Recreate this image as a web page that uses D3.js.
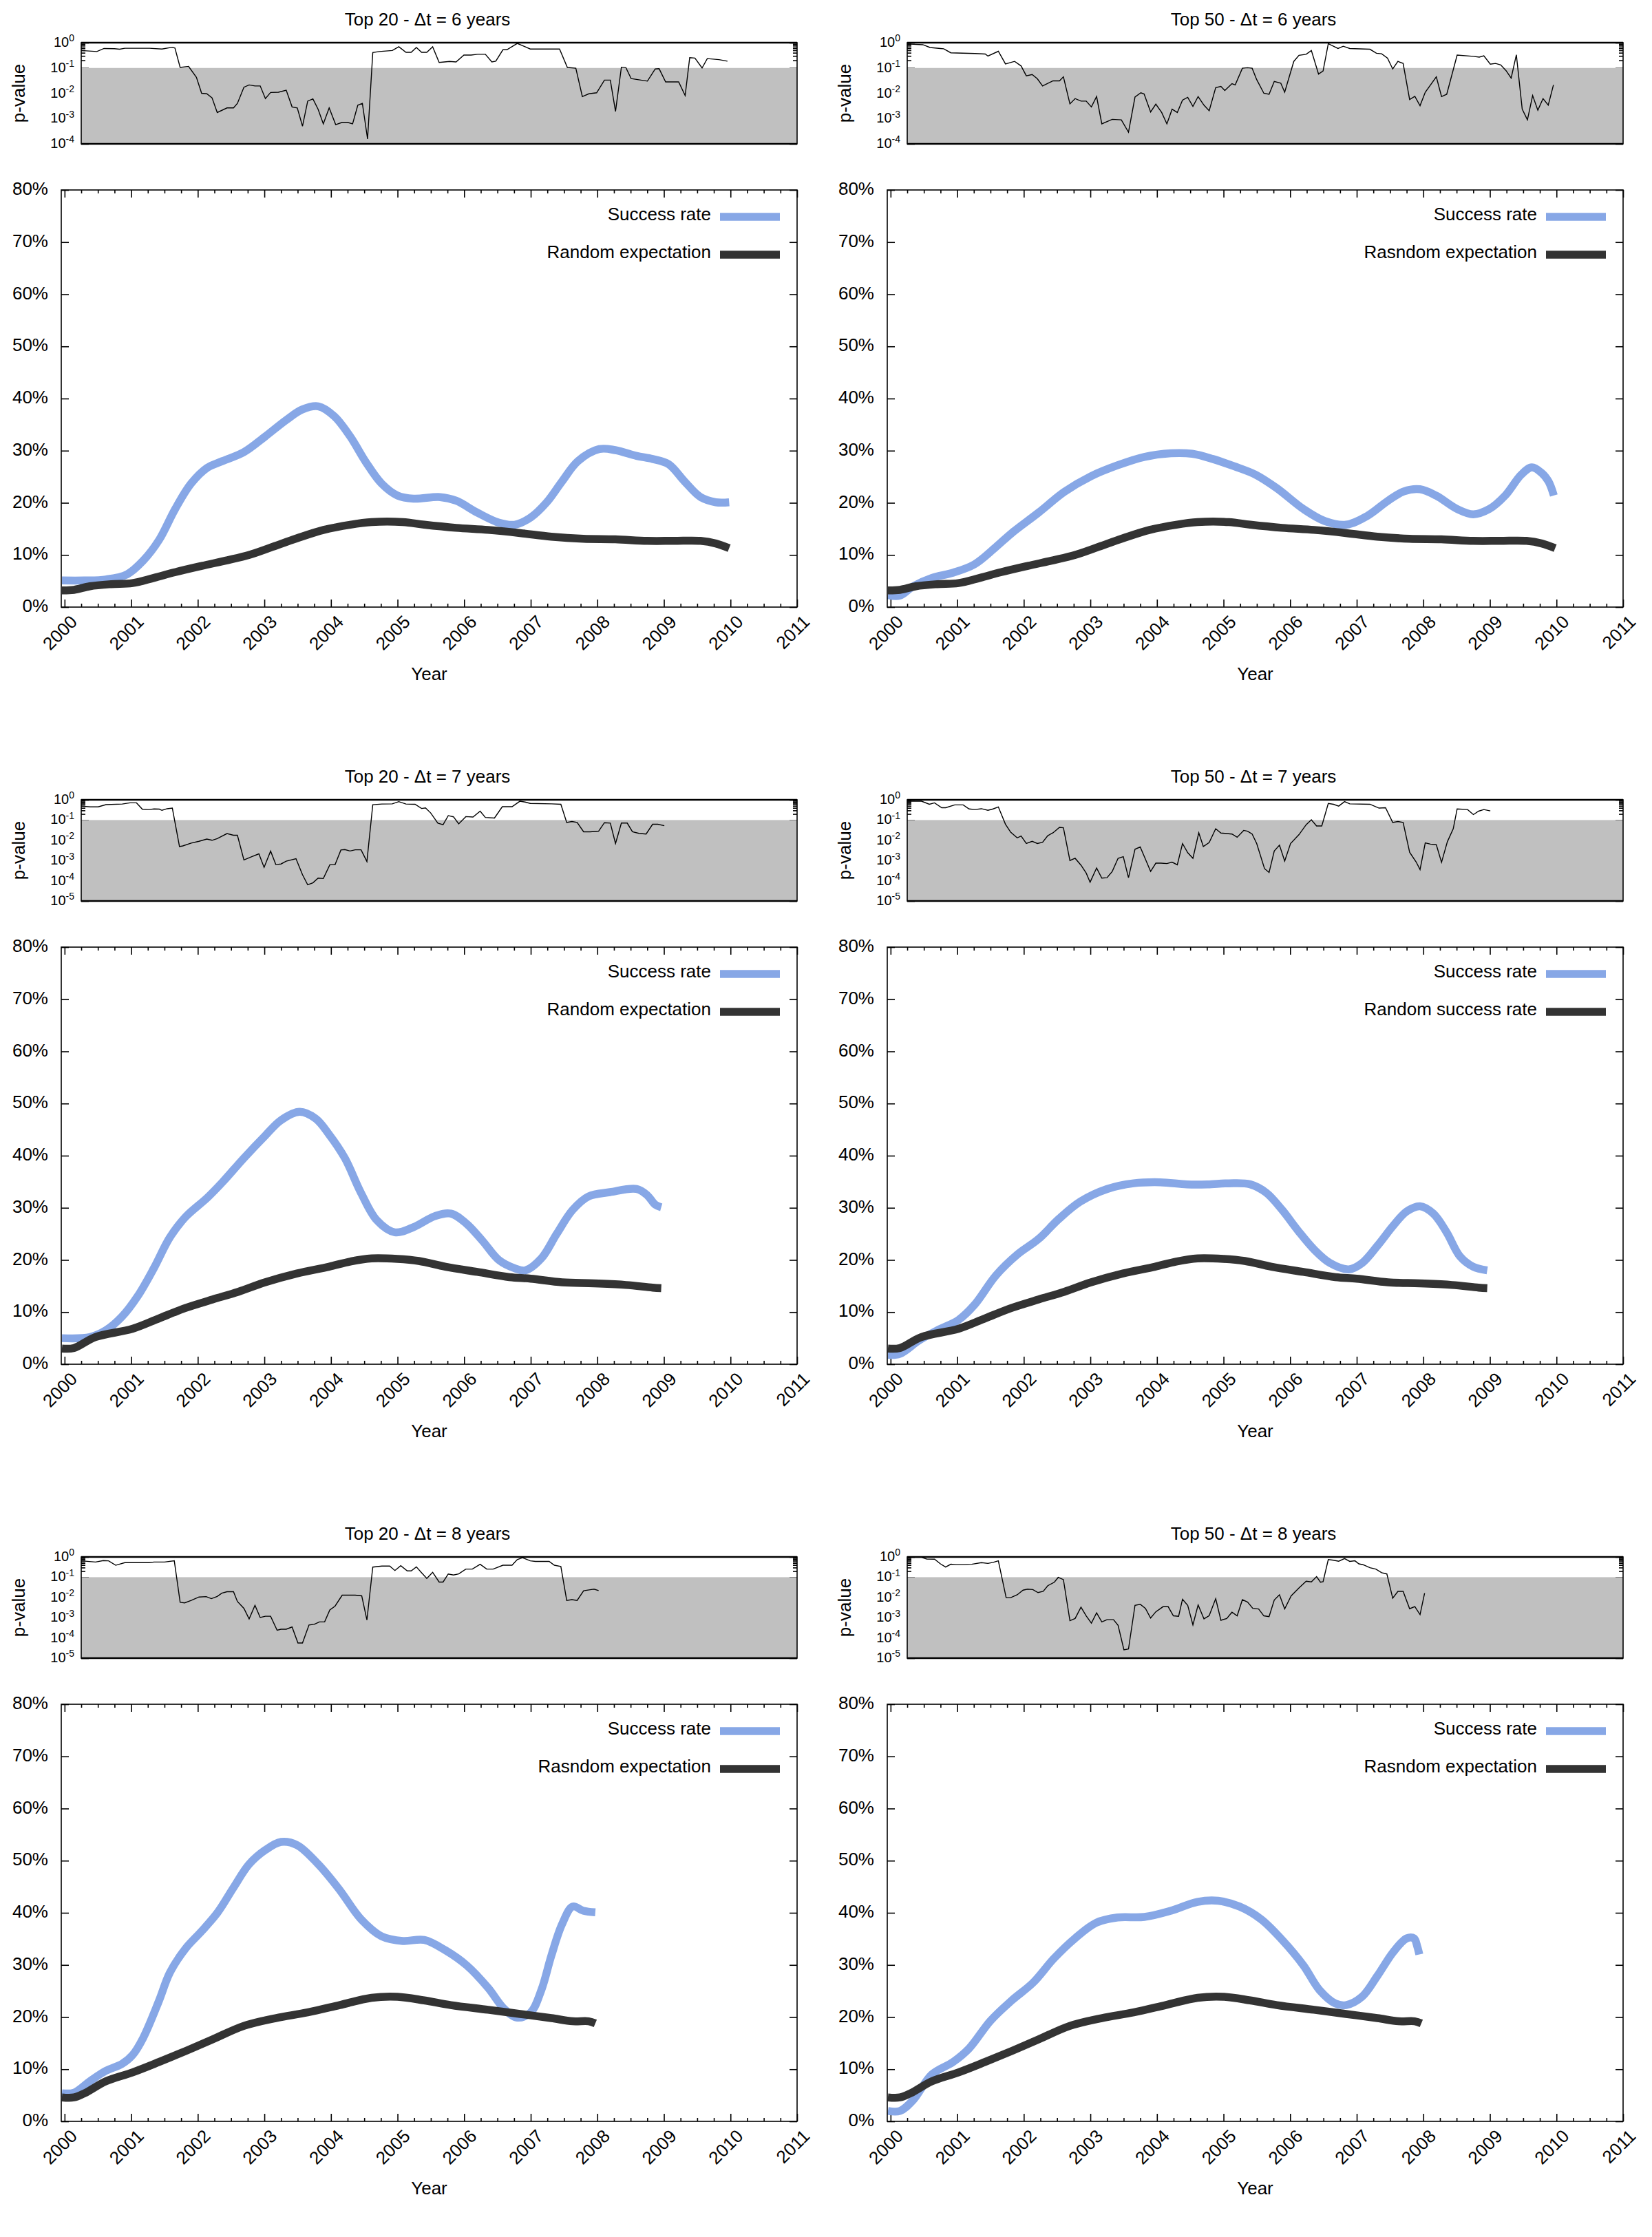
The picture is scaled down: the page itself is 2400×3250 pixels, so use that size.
<!DOCTYPE html>
<html>
<head>
<meta charset="utf-8">
<script src="https://cdn.jsdelivr.net/npm/d3@7"></script>
<style>
body{margin:0;background:#fff}
text{font-family:"Liberation Sans",Arial,Helvetica,sans-serif;fill:#000}
</style>
</head>
<body>
<div id="chart"></div>
<script>
// six panels (Top 20 / Top 50 x dt = 6,7,8 years)
var titles=["Top 20 - \u0394t = 6 years","Top 50 - \u0394t = 6 years",
"Top 20 - \u0394t = 7 years","Top 50 - \u0394t = 7 years",
"Top 20 - \u0394t = 8 years","Top 50 - \u0394t = 8 years"];
var legendLabels=[["Success rate","Random expectation"],["Success rate","Rasndom expectation"],
["Success rate","Random expectation"],["Success rate","Random success rate"],
["Success rate","Rasndom expectation"],["Success rate","Rasndom expectation"]];
var yearTicks=[2000,2001,2002,2003,2004,2005,2006,2007,2008,2009,2010,2011];
var pctTicks=[0,10,20,30,40,50,60,70,80];

// p-value lines: [year, log10(p)]
var pv_t20_dt6=[[2000.00,-0.31],[2000.24,-0.35],[2000.35,-0.23],[2000.51,-0.24],[2000.59,-0.26],[2000.67,-0.22],[2001.05,-0.22],[2001.24,-0.25],[2001.40,-0.18],[2001.44,-0.21],[2001.52,-0.98],[2001.65,-0.94],[2001.77,-1.37],[2001.85,-2.00],[2001.93,-2.02],[2002.01,-2.18],[2002.09,-2.76],[2002.24,-2.58],[2002.34,-2.58],[2002.40,-2.40],[2002.50,-1.76],[2002.58,-1.67],[2002.67,-1.71],[2002.75,-1.71],[2002.83,-2.21],[2002.91,-1.97],[2003.03,-1.96],[2003.15,-1.88],[2003.24,-2.54],[2003.32,-2.58],[2003.40,-3.30],[2003.48,-2.31],[2003.56,-2.22],[2003.64,-2.63],[2003.72,-3.21],[2003.81,-2.58],[2003.91,-3.24],[2004.01,-3.15],[2004.09,-3.15],[2004.17,-3.21],[2004.25,-2.47],[2004.32,-2.40],[2004.40,-3.81],[2004.48,-0.39],[2004.58,-0.35],[2004.78,-0.31],[2004.88,-0.16],[2004.99,-0.38],[2005.07,-0.38],[2005.15,-0.19],[2005.23,-0.38],[2005.31,-0.38],[2005.40,-0.16],[2005.50,-0.78],[2005.58,-0.76],[2005.66,-0.74],[2005.76,-0.76],[2005.88,-0.49],[2005.99,-0.49],[2006.09,-0.46],[2006.21,-0.46],[2006.31,-0.76],[2006.37,-0.73],[2006.48,-0.28],[2006.54,-0.28],[2006.70,-0.03],[2006.82,-0.16],[2006.90,-0.25],[2007.35,-0.25],[2007.47,-0.98],[2007.60,-1.01],[2007.70,-2.13],[2007.80,-2.02],[2007.92,-1.98],[2008.04,-1.48],[2008.13,-1.48],[2008.21,-2.72],[2008.30,-0.97],[2008.37,-0.99],[2008.45,-1.42],[2008.70,-1.52],[2008.82,-1.04],[2008.88,-1.03],[2008.98,-1.55],[2009.18,-1.55],[2009.28,-2.09],[2009.35,-0.59],[2009.43,-0.61],[2009.54,-1.00],[2009.62,-0.63],[2009.80,-0.67],[2009.93,-0.73]];
var pv_t50_dt6=[[2000.00,-0.05],[2000.24,-0.08],[2000.35,-0.19],[2000.51,-0.23],[2000.56,-0.24],[2000.67,-0.40],[2001.04,-0.43],[2001.20,-0.45],[2001.24,-0.53],[2001.40,-0.34],[2001.51,-0.84],[2001.65,-0.74],[2001.75,-0.92],[2001.83,-1.31],[2001.92,-1.26],[2002.00,-1.43],[2002.08,-1.71],[2002.24,-1.51],[2002.34,-1.51],[2002.40,-1.35],[2002.50,-2.42],[2002.58,-2.21],[2002.67,-2.31],[2002.75,-2.31],[2002.83,-2.54],[2002.91,-2.13],[2002.99,-3.21],[2003.15,-3.03],[2003.29,-3.05],[2003.40,-3.54],[2003.50,-2.15],[2003.59,-1.98],[2003.64,-2.03],[2003.74,-2.74],[2003.82,-2.43],[2003.91,-2.76],[2003.99,-3.21],[2004.07,-2.63],[2004.15,-2.76],[2004.23,-2.27],[2004.31,-2.16],[2004.39,-2.52],[2004.47,-2.13],[2004.56,-2.47],[2004.64,-2.69],[2004.74,-1.78],[2004.82,-1.73],[2004.88,-1.89],[2004.99,-1.62],[2005.04,-1.67],[2005.15,-1.01],[2005.23,-0.99],[2005.30,-1.01],[2005.37,-1.46],[2005.48,-2.00],[2005.56,-2.04],[2005.64,-1.53],[2005.74,-1.60],[2005.80,-1.96],[2005.94,-0.74],[2006.02,-0.50],[2006.13,-0.46],[2006.21,-0.31],[2006.32,-1.24],[2006.39,-1.12],[2006.47,-0.04],[2006.62,-0.23],[2006.70,-0.14],[2006.80,-0.23],[2007.11,-0.26],[2007.21,-0.42],[2007.29,-0.44],[2007.38,-0.61],[2007.46,-1.04],[2007.54,-0.74],[2007.62,-0.82],[2007.72,-2.25],[2007.80,-2.12],[2007.88,-2.49],[2007.96,-1.96],[2008.13,-1.35],[2008.21,-2.13],[2008.29,-2.04],[2008.45,-0.49],[2008.70,-0.54],[2008.79,-0.57],[2008.86,-0.52],[2008.96,-0.85],[2009.04,-0.82],[2009.12,-0.88],[2009.20,-1.10],[2009.28,-1.40],[2009.36,-0.48],[2009.45,-2.63],[2009.53,-3.05],[2009.61,-2.09],[2009.69,-2.67],[2009.77,-2.21],[2009.85,-2.47],[2009.93,-1.67]];
var pv_t20_dt7=[[2000.00,-0.31],[2000.14,-0.35],[2000.26,-0.35],[2000.38,-0.24],[2000.63,-0.21],[2000.75,-0.15],[2000.85,-0.15],[2000.94,-0.47],[2001.04,-0.48],[2001.12,-0.45],[2001.20,-0.46],[2001.24,-0.52],[2001.32,-0.44],[2001.40,-0.41],[2001.51,-2.31],[2001.56,-2.28],[2001.69,-2.14],[2001.81,-2.05],[2001.93,-1.94],[2002.01,-2.00],[2002.09,-1.92],[2002.24,-1.67],[2002.34,-1.75],[2002.40,-1.75],[2002.50,-2.97],[2002.62,-2.81],[2002.73,-2.67],[2002.81,-3.34],[2002.91,-2.53],[2002.99,-3.20],[2003.07,-3.17],[2003.15,-3.03],[2003.30,-2.91],[2003.40,-3.70],[2003.48,-4.20],[2003.56,-4.10],[2003.64,-3.87],[2003.72,-3.89],[2003.82,-3.21],[2003.90,-3.21],[2003.99,-2.48],[2004.05,-2.46],[2004.13,-2.53],[2004.21,-2.47],[2004.30,-2.47],[2004.39,-3.05],[2004.48,-0.24],[2004.62,-0.21],[2004.78,-0.20],[2004.88,-0.09],[2004.99,-0.21],[2005.13,-0.22],[2005.23,-0.43],[2005.29,-0.40],[2005.37,-0.65],[2005.48,-1.15],[2005.56,-1.23],[2005.64,-0.78],[2005.72,-0.84],[2005.80,-1.19],[2005.91,-0.83],[2006.02,-0.85],[2006.13,-0.56],[2006.21,-0.87],[2006.35,-0.90],[2006.47,-0.34],[2006.62,-0.34],[2006.74,-0.07],[2006.82,-0.11],[2006.90,-0.18],[2007.23,-0.20],[2007.37,-0.22],[2007.46,-1.12],[2007.54,-1.07],[2007.62,-1.12],[2007.72,-1.58],[2007.82,-1.58],[2007.95,-1.55],[2008.04,-1.13],[2008.13,-1.15],[2008.21,-2.16],[2008.30,-1.15],[2008.39,-1.15],[2008.47,-1.58],[2008.57,-1.66],[2008.68,-1.69],[2008.78,-1.21],[2008.86,-1.21],[2008.96,-1.28]];
var pv_t50_dt7=[[2000.00,-0.07],[2000.22,-0.07],[2000.34,-0.22],[2000.42,-0.15],[2000.53,-0.39],[2000.59,-0.39],[2000.73,-0.25],[2000.86,-0.25],[2000.95,-0.45],[2001.04,-0.48],[2001.14,-0.44],[2001.24,-0.52],[2001.32,-0.45],[2001.40,-0.35],[2001.51,-1.21],[2001.59,-1.60],[2001.69,-1.88],[2001.75,-1.79],[2001.83,-2.16],[2001.92,-2.05],[2002.00,-2.16],[2002.08,-2.10],[2002.16,-1.77],[2002.24,-1.63],[2002.34,-1.36],[2002.40,-1.38],[2002.50,-3.00],[2002.58,-2.89],[2002.67,-3.23],[2002.75,-3.62],[2002.81,-4.07],[2002.91,-3.37],[2002.99,-3.87],[2003.07,-3.85],[2003.15,-3.54],[2003.24,-2.89],[2003.32,-2.81],[2003.40,-3.85],[2003.50,-2.44],[2003.58,-2.33],[2003.64,-2.78],[2003.74,-3.54],[2003.82,-3.13],[2003.90,-3.13],[2003.99,-3.15],[2004.07,-3.08],[2004.15,-3.21],[2004.23,-2.16],[2004.31,-2.61],[2004.39,-2.89],[2004.48,-1.63],[2004.55,-2.31],[2004.64,-2.11],[2004.74,-1.43],[2004.82,-1.64],[2004.88,-1.66],[2004.99,-1.69],[2005.07,-1.85],[2005.17,-1.51],[2005.23,-1.55],[2005.30,-1.69],[2005.37,-2.16],[2005.49,-3.40],[2005.56,-3.59],[2005.64,-2.53],[2005.72,-2.24],[2005.80,-3.03],[2005.89,-2.16],[2006.02,-1.72],[2006.13,-1.23],[2006.21,-0.99],[2006.29,-1.29],[2006.37,-1.29],[2006.47,-0.18],[2006.55,-0.22],[2006.63,-0.31],[2006.72,-0.09],[2006.80,-0.20],[2007.11,-0.22],[2007.25,-0.41],[2007.35,-0.39],[2007.46,-1.12],[2007.54,-1.07],[2007.62,-1.12],[2007.72,-2.59],[2007.82,-3.07],[2007.88,-3.45],[2007.96,-2.13],[2008.04,-2.19],[2008.13,-2.22],[2008.21,-3.09],[2008.30,-2.07],[2008.39,-1.43],[2008.45,-0.45],[2008.61,-0.48],[2008.70,-0.73],[2008.78,-0.56],[2008.86,-0.48],[2008.96,-0.55]];
var pv_t20_dt8=[[2000.06,-0.21],[2000.22,-0.25],[2000.34,-0.18],[2000.42,-0.19],[2000.53,-0.41],[2000.67,-0.28],[2001.04,-0.28],[2001.12,-0.25],[2001.28,-0.25],[2001.43,-0.19],[2001.52,-2.24],[2001.59,-2.27],[2001.69,-2.15],[2001.81,-1.98],[2001.92,-1.96],[2002.00,-2.06],[2002.09,-1.95],[2002.16,-1.79],[2002.24,-1.72],[2002.34,-1.72],[2002.40,-2.20],[2002.50,-2.54],[2002.58,-3.06],[2002.67,-2.39],[2002.75,-2.99],[2002.83,-2.93],[2002.91,-2.93],[2003.01,-3.62],[2003.07,-3.57],[2003.15,-3.57],[2003.24,-3.46],[2003.33,-4.25],[2003.40,-4.25],[2003.50,-3.36],[2003.58,-3.33],[2003.66,-3.21],[2003.74,-3.21],[2003.82,-2.62],[2003.90,-2.43],[2004.01,-1.89],[2004.21,-1.89],[2004.31,-1.92],[2004.39,-3.12],[2004.48,-0.50],[2004.62,-0.45],[2004.74,-0.45],[2004.82,-0.67],[2004.91,-0.43],[2005.01,-0.69],[2005.07,-0.69],[2005.15,-0.49],[2005.23,-0.78],[2005.31,-1.06],[2005.40,-0.76],[2005.50,-1.24],[2005.56,-1.24],[2005.64,-0.84],[2005.72,-0.89],[2005.80,-0.84],[2005.91,-0.60],[2006.01,-0.60],[2006.13,-0.36],[2006.23,-0.60],[2006.33,-0.60],[2006.48,-0.41],[2006.62,-0.41],[2006.70,-0.13],[2006.78,-0.04],[2006.90,-0.19],[2006.98,-0.22],[2007.19,-0.22],[2007.27,-0.41],[2007.37,-0.47],[2007.46,-2.15],[2007.54,-2.11],[2007.62,-2.15],[2007.72,-1.67],[2007.82,-1.62],[2007.88,-1.59],[2007.95,-1.66]];
var pv_t50_dt8=[[2000.06,-0.02],[2000.22,-0.02],[2000.30,-0.10],[2000.42,-0.11],[2000.51,-0.34],[2000.59,-0.50],[2000.67,-0.36],[2000.75,-0.38],[2000.87,-0.38],[2000.99,-0.36],[2001.14,-0.28],[2001.24,-0.32],[2001.32,-0.27],[2001.40,-0.19],[2001.52,-2.01],[2001.59,-2.01],[2001.69,-1.87],[2001.78,-1.64],[2001.85,-1.59],[2001.93,-1.61],[2002.01,-1.76],[2002.09,-1.70],[2002.16,-1.42],[2002.26,-1.25],[2002.32,-1.01],[2002.40,-1.12],[2002.50,-3.15],[2002.58,-3.04],[2002.67,-2.48],[2002.75,-2.91],[2002.83,-3.27],[2002.91,-2.76],[2002.99,-3.21],[2003.07,-3.10],[2003.17,-3.10],[2003.24,-3.38],[2003.33,-4.59],[2003.40,-4.55],[2003.50,-2.39],[2003.58,-2.34],[2003.66,-2.54],[2003.74,-3.02],[2003.82,-2.71],[2003.93,-2.46],[2004.01,-2.46],[2004.09,-2.91],[2004.17,-2.93],[2004.23,-2.09],[2004.31,-2.39],[2004.39,-3.36],[2004.47,-2.37],[2004.56,-3.06],[2004.64,-2.90],[2004.74,-2.06],[2004.82,-3.13],[2004.91,-3.04],[2004.99,-2.73],[2005.07,-2.91],[2005.15,-2.11],[2005.23,-2.23],[2005.31,-2.54],[2005.40,-2.57],[2005.48,-2.91],[2005.56,-2.95],[2005.64,-2.13],[2005.72,-1.87],[2005.80,-2.57],[2005.90,-1.92],[2006.02,-1.53],[2006.13,-1.20],[2006.21,-1.23],[2006.29,-0.97],[2006.35,-1.25],[2006.39,-1.22],[2006.47,-0.13],[2006.55,-0.16],[2006.63,-0.21],[2006.72,-0.08],[2006.80,-0.22],[2006.88,-0.19],[2006.94,-0.34],[2007.01,-0.39],[2007.11,-0.53],[2007.20,-0.60],[2007.29,-0.78],[2007.37,-0.84],[2007.46,-2.04],[2007.54,-1.70],[2007.62,-1.70],[2007.72,-2.56],[2007.80,-2.45],[2007.88,-2.85],[2007.95,-1.79]];

// success rate (%) : [year, value]
var sr_t20_dt6=[[1999.96,5.1],[2000.30,5.1],[2000.62,5.3],[2000.94,6.3],[2001.18,8.9],[2001.42,12.9],[2001.66,18.8],[2001.90,23.7],[2002.14,26.7],[2002.37,28.0],[2002.69,29.7],[2003.01,32.7],[2003.33,35.9],[2003.57,37.9],[2003.81,38.5],[2004.05,36.6],[2004.29,32.7],[2004.53,27.7],[2004.76,23.7],[2005.00,21.4],[2005.24,20.8],[2005.64,21.1],[2005.88,20.4],[2006.20,18.1],[2006.52,16.2],[2006.76,15.8],[2007.00,17.2],[2007.24,20.1],[2007.47,24.1],[2007.71,28.0],[2008.03,30.3],[2008.27,30.1],[2008.59,29.0],[2008.83,28.4],[2009.07,27.4],[2009.31,24.1],[2009.55,21.1],[2009.78,20.1],[2009.98,20.1]];
var sr_t50_dt6=[[1999.96,2.3],[2000.14,2.2],[2000.34,4.0],[2000.62,5.6],[2000.94,6.6],[2001.26,8.2],[2001.58,11.5],[2001.82,14.2],[2002.22,18.1],[2002.61,22.1],[2003.01,25.1],[2003.41,27.2],[2003.81,28.8],[2004.21,29.5],[2004.53,29.4],[2004.84,28.4],[2005.16,27.0],[2005.48,25.4],[2005.80,22.8],[2006.20,18.8],[2006.52,16.5],[2006.84,15.8],[2007.16,17.5],[2007.47,20.4],[2007.71,22.2],[2007.95,22.6],[2008.19,21.4],[2008.51,18.8],[2008.75,17.8],[2008.99,18.8],[2009.23,21.4],[2009.47,25.4],[2009.63,26.8],[2009.78,25.7],[2009.88,24.1],[2009.96,21.4]];
var sr_t20_dt7=[[1999.96,5.0],[2000.38,5.2],[2000.62,6.5],[2000.86,9.1],[2001.10,13.1],[2001.34,18.4],[2001.58,24.3],[2001.82,28.3],[2002.14,31.9],[2002.37,34.9],[2002.69,39.5],[2003.01,43.8],[2003.25,46.8],[2003.53,48.4],[2003.77,47.1],[2003.97,44.1],[2004.21,39.5],[2004.45,32.9],[2004.69,27.6],[2004.96,25.3],[2005.24,26.3],[2005.56,28.4],[2005.80,28.9],[2006.04,26.9],[2006.28,23.6],[2006.52,20.0],[2006.76,18.4],[2006.92,18.0],[2007.16,20.3],[2007.39,25.0],[2007.63,29.6],[2007.87,32.2],[2008.19,33.0],[2008.59,33.6],[2008.75,32.4],[2008.87,30.6],[2008.96,30.1]];
var sr_t50_dt7=[[1999.96,1.8],[2000.14,2.0],[2000.42,4.5],[2000.70,6.5],[2001.02,8.5],[2001.26,11.4],[2001.58,17.0],[2001.90,21.0],[2002.22,24.0],[2002.53,27.9],[2002.85,31.2],[2003.25,33.6],[2003.65,34.7],[2004.05,34.9],[2004.45,34.5],[2004.76,34.5],[2005.08,34.7],[2005.40,34.5],[2005.64,32.9],[2005.88,29.6],[2006.12,25.6],[2006.36,22.0],[2006.60,19.4],[2006.88,18.2],[2007.08,19.4],[2007.31,22.7],[2007.55,26.6],[2007.75,29.3],[2007.95,30.3],[2008.15,28.9],[2008.35,25.3],[2008.55,20.7],[2008.75,18.7],[2008.96,18.0]];
var sr_t20_dt8=[[1999.96,5.4],[2000.14,5.5],[2000.38,7.7],[2000.62,9.7],[2000.86,11.0],[2001.02,12.7],[2001.18,16.0],[2001.42,23.2],[2001.58,28.5],[2001.82,33.2],[2002.06,36.5],[2002.30,40.1],[2002.53,44.7],[2002.77,49.3],[2003.01,52.0],[2003.25,53.6],[2003.49,53.0],[2003.81,49.3],[2004.13,44.4],[2004.45,38.8],[2004.76,35.5],[2005.08,34.6],[2005.40,34.8],[2005.72,32.8],[2006.04,29.9],[2006.36,25.6],[2006.60,21.6],[2006.80,19.9],[2007.00,20.9],[2007.16,25.2],[2007.31,31.8],[2007.47,37.8],[2007.63,41.2],[2007.79,40.4],[2007.97,40.1]];
var sr_t50_dt8=[[1999.96,2.0],[2000.14,2.0],[2000.34,4.1],[2000.62,9.0],[2000.94,11.4],[2001.18,14.0],[2001.50,19.3],[2001.82,23.2],[2002.14,26.6],[2002.45,31.2],[2002.77,35.1],[2003.09,38.1],[2003.41,39.1],[2003.81,39.2],[2004.21,40.4],[2004.61,42.1],[2004.92,42.3],[2005.24,41.2],[2005.56,38.8],[2005.88,34.8],[2006.20,29.9],[2006.44,25.2],[2006.68,22.6],[2006.84,22.3],[2007.08,23.9],[2007.31,27.9],[2007.55,32.5],[2007.75,35.1],[2007.86,35.1],[2007.91,33.5],[2007.94,32.0]];

// random expectation (%), same for Top 20 and Top 50
var rnd_dt6=[[1999.96,3.2],[2000.14,3.3],[2000.38,4.0],[2000.70,4.4],[2001.02,4.6],[2001.34,5.6],[2001.66,6.7],[2002.06,7.9],[2002.45,9.0],[2002.77,10.0],[2003.09,11.4],[2003.49,13.2],[2003.89,14.8],[2004.29,15.8],[2004.61,16.3],[2005.08,16.3],[2005.40,15.8],[2005.88,15.2],[2006.36,14.8],[2006.84,14.2],[2007.31,13.5],[2007.79,13.1],[2008.27,13.0],[2008.75,12.7],[2009.15,12.7],[2009.55,12.7],[2009.78,12.2],[2009.98,11.3]];
var rnd_dt7=[[1999.96,3.0],[2000.14,3.1],[2000.46,5.2],[2001.02,6.8],[2001.42,8.8],[2001.82,10.8],[2002.22,12.4],[2002.61,13.9],[2003.01,15.7],[2003.49,17.4],[2003.97,18.7],[2004.29,19.7],[2004.61,20.3],[2005.00,20.2],[2005.32,19.8],[2005.72,18.7],[2006.20,17.7],[2006.68,16.7],[2007.00,16.4],[2007.47,15.7],[2007.95,15.5],[2008.43,15.2],[2008.83,14.7],[2008.96,14.6]];
var rnd_dt8=[[1999.96,4.6],[2000.14,4.6],[2000.30,5.4],[2000.62,7.7],[2001.02,9.4],[2001.42,11.4],[2001.82,13.5],[2002.22,15.7],[2002.69,18.3],[2003.17,19.8],[2003.65,20.9],[2004.13,22.3],[2004.61,23.7],[2005.00,23.9],[2005.40,23.2],[2005.80,22.3],[2006.36,21.4],[2006.84,20.6],[2007.31,19.8],[2007.63,19.2],[2007.87,19.2],[2007.97,18.8]];

var pvSeries=[pv_t20_dt6,pv_t50_dt6,pv_t20_dt7,pv_t50_dt7,pv_t20_dt8,pv_t50_dt8];
var srSeries=[sr_t20_dt6,sr_t50_dt6,sr_t20_dt7,sr_t50_dt7,sr_t20_dt8,sr_t50_dt8];
var rndSeries=[rnd_dt6,rnd_dt6,rnd_dt7,rnd_dt7,rnd_dt8,rnd_dt8];
var pMinExp=[-4,-4,-5,-5,-5,-5];

var W=2400,H=3250;
var blue="#87a7e6",dark="#333333",shade="#c0c0c0";
var fs=26;

var svg=d3.select("#chart").append("svg")
.attr("width",W).attr("height",H);
svg.append("rect").attr("width",W).attr("height",H).attr("fill","#fff");

function tickStyle(sel){
sel.select(".domain").remove();
sel.selectAll("line").attr("stroke","#000").attr("stroke-width",1.6);
}

titles.forEach(function(title,i){
var col=i%2,row=Math.floor(i/2);
var g=svg.append("g")
.attr("transform",`translate(${col*1200},${row*1100})`);

g.append("text").attr("x",621).attr("y",28).attr("dy","0.35em")
.attr("text-anchor","middle").style("font-size",fs+"px").text(title);

// ---- p-value strip ----
var pl=118,pr=1158,pt=62,pb=209;
var eMin=pMinExp[i];
var px=d3.scaleLinear().domain([2000,2011]).range([pl,pr]);
var py=d3.scaleLog().domain([Math.pow(10,eMin),1]).range([pb,pt]);
var majors=d3.range(eMin,1).map(function(e){return Math.pow(10,e);});
var minors=[];
d3.range(eMin,0).forEach(function(e){
for(var k=2;k<10;k++) minors.push(k*Math.pow(10,e));
});
[[d3.axisLeft,pl],[d3.axisRight,pr]].forEach(function(a){
g.append("g").attr("transform",`translate(${a[1]},0)`)
.call(a[0](py).tickValues(majors).tickSize(-11).tickFormat("")).call(tickStyle);
g.append("g").attr("transform",`translate(${a[1]},0)`)
.call(a[0](py).tickValues(minors).tickSize(-6).tickFormat("")).call(tickStyle);
});
// shaded zone p < 0.1 (drawn over the ticks)
g.append("rect").attr("x",pl).attr("width",pr-pl)
.attr("y",py(0.1)).attr("height",py(Math.pow(10,eMin))-py(0.1))
.attr("fill",shade);

g.append("path").datum(pvSeries[i])
.attr("fill","none").attr("stroke","#000").attr("stroke-width",1.4)
.attr("stroke-linejoin","miter")
.attr("d",d3.line().x(function(d){return px(d[0]);})
.y(function(d){return py(Math.pow(10,d[1]));}));

g.append("rect").attr("x",pl).attr("y",pt).attr("width",pr-pl).attr("height",pb-pt)
.attr("fill","none").attr("stroke","#000").attr("stroke-width",1.6);
g.append("line").attr("x1",pl).attr("x2",pr).attr("y1",pt).attr("y2",pt)
.attr("stroke","#000").attr("stroke-width",2.4);
g.append("line").attr("x1",pl).attr("x2",pr).attr("y1",pb).attr("y2",pb)
.attr("stroke","#000").attr("stroke-width",2.4);

majors.forEach(function(v){
var e=Math.round(Math.log10(v));
var t=g.append("text").attr("x",pl-10).attr("y",py(v)).attr("dy","0.3em")
.attr("text-anchor","end").style("font-size","20px");
t.append("tspan").text("10");
t.append("tspan").attr("dy","-0.55em").style("font-size","14px").text(String(e));
});
g.append("text").attr("transform",`translate(27,${(pt+pb)/2}) rotate(-90)`)
.attr("text-anchor","middle").attr("dy","0.35em").style("font-size",fs+"px").text("p-value");

// ---- main plot ----
var ml=89,mr=1158,mt=276,mb=882;
var x=d3.scaleLinear().domain([1999.95,2011]).range([ml,mr]);
var y=d3.scaleLinear().domain([0,80]).range([mb,mt]);
var quarters=[];
yearTicks.slice(0,-1).forEach(function(yr){quarters.push(yr+0.25,yr+0.5,yr+0.75);});

g.append("g").attr("transform",`translate(0,${mb})`)
.call(d3.axisBottom(x).tickValues(yearTicks).tickSize(-11).tickFormat("")).call(tickStyle);
g.append("g").attr("transform",`translate(0,${mb})`)
.call(d3.axisBottom(x).tickValues(quarters).tickSize(-5).tickFormat("")).call(tickStyle);
g.append("g").attr("transform",`translate(0,${mt})`)
.call(d3.axisTop(x).tickValues(yearTicks).tickSize(-11).tickFormat("")).call(tickStyle);
g.append("g").attr("transform",`translate(0,${mt})`)
.call(d3.axisTop(x).tickValues(quarters).tickSize(-5).tickFormat("")).call(tickStyle);
g.append("g").attr("transform",`translate(${ml},0)`)
.call(d3.axisLeft(y).tickValues(pctTicks).tickSize(-11).tickFormat("")).call(tickStyle);
g.append("g").attr("transform",`translate(${mr},0)`)
.call(d3.axisRight(y).tickValues(pctTicks).tickSize(-11).tickFormat("")).call(tickStyle);

var line=d3.line().x(function(d){return x(d[0]);}).y(function(d){return y(d[1]);})
.curve(d3.curveCatmullRom.alpha(0.5));
g.append("path").datum(srSeries[i]).attr("fill","none").attr("stroke",blue)
.attr("stroke-width",11.5).attr("stroke-linejoin","round").attr("d",line);
g.append("path").datum(rndSeries[i]).attr("fill","none").attr("stroke",dark)
.attr("stroke-width",11.5).attr("stroke-linejoin","round").attr("d",line);

g.append("rect").attr("x",ml).attr("y",mt).attr("width",mr-ml).attr("height",mb-mt)
.attr("fill","none").attr("stroke","#000").attr("stroke-width",1.6);

pctTicks.forEach(function(v){
g.append("text").attr("x",ml-19).attr("y",y(v)-2).attr("dy","0.35em")
.attr("text-anchor","end").style("font-size",fs+"px").text(v+"%");
});
yearTicks.forEach(function(yr){
var tx=x(yr)+20,ty=mb+23;
g.append("text").attr("transform",`translate(${tx},${ty}) rotate(-45)`)
.attr("text-anchor","end").style("font-size",fs+"px").text(yr);
});
g.append("text").attr("x",(ml+mr)/2).attr("y",979).attr("dy","0.35em")
.attr("text-anchor","middle").style("font-size",fs+"px").text("Year");

// legend
[blue,dark].forEach(function(c,k){
var ly=mt+39+k*55;
g.append("line").attr("x1",1046).attr("x2",1133).attr("y1",ly).attr("y2",ly)
.attr("stroke",c).attr("stroke-width",11.5);
g.append("text").attr("x",1033).attr("y",ly-4).attr("dy","0.35em")
.attr("text-anchor","end").style("font-size",fs+"px").text(legendLabels[i][k]);
});
});
</script>
</body>
</html>
